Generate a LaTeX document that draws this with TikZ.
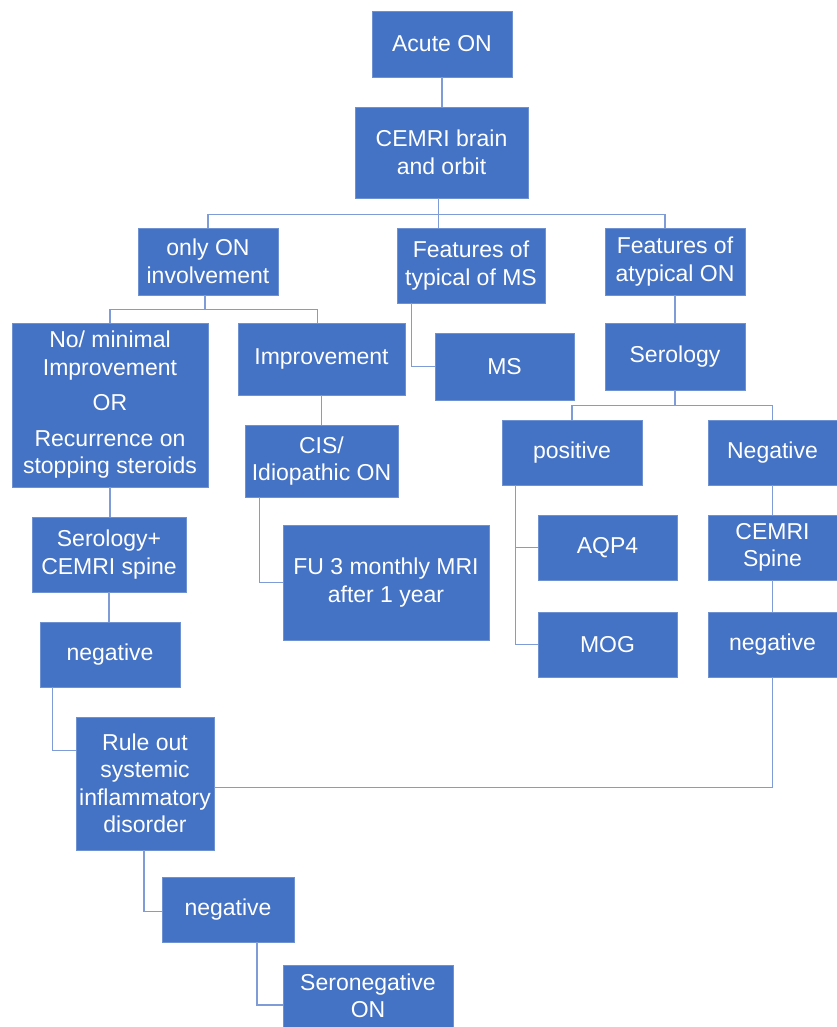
\documentclass[tikz,border=0pt]{standalone}
\usepackage{fontspec}
\setmainfont{Liberation Sans}
\usetikzlibrary{positioning}

\definecolor{boxblue}{RGB}{68,114,196}
\definecolor{boxedge}{RGB}{110,145,210}
\definecolor{linkblue}{RGB}{128,156,214}

\tikzset{
  box/.style={fill=boxblue, draw=boxedge, line width=0.8pt, text=white,
    align=center, inner sep=0pt, font=\fontsize{23}{27.5}\selectfont},
  link/.style={draw=linkblue, line width=1.6pt}
}

\begin{document}
\begin{tikzpicture}[x=1pt, y=-1pt]
  \useasboundingbox (0,0) rectangle (837,1027);

  % top of the tree
  \node[box, minimum width=140pt, minimum height=66pt] (acute) at (442,44) {Acute ON};
  \node[box, minimum width=173pt, minimum height=91pt] (cemri) at (441.5,152.5) {CEMRI brain\\and orbit};

  % first split
  \node[box, minimum width=140pt, minimum height=67pt] (onlyon) at (208,261.5) {only ON\\involvement};
  \node[box, minimum width=148pt, minimum height=75pt] (typms) at (471,265.5) {Features of\\typical of MS};
  \node[box, minimum width=140pt, minimum height=67pt] (atyp) at (675,261.5) {Features of\\atypical ON};

  % left branch
  \node[box, minimum width=196pt, minimum height=164pt] (nomin) at (110,405) {No/ minimal\\Improvement\\[8pt]OR\\[8pt]Recurrence on\\stopping steroids};
  \node[box, minimum width=167pt, minimum height=72pt] (improv) at (321.5,359) {Improvement};
  \node[box, minimum width=153pt, minimum height=72pt] (cis) at (321.5,461) {CIS/\\Idiopathic ON};
  \node[box, minimum width=206pt, minimum height=115pt] (fu) at (386,582.5) {FU 3 monthly MRI\\after 1 year};
  \node[box, minimum width=154pt, minimum height=75pt] (seroplus) at (109,554.5) {Serology+\\CEMRI spine};
  \node[box, minimum width=140pt, minimum height=65pt] (negl) at (110,654.5) {negative};
  \node[box, minimum width=138pt, minimum height=133pt] (ruleout) at (145,783.5) {Rule out\\systemic\\inflammatory\\disorder};
  \node[box, minimum width=132pt, minimum height=65pt] (negb) at (228,909.5) {negative};
  \node[box, minimum width=170pt, minimum height=62pt] (seroneg) at (368,996) {Seronegative\\ON};

  % middle branch
  \node[box, minimum width=139pt, minimum height=67pt] (ms) at (504.5,366.5) {MS};

  % right branch
  \node[box, minimum width=140pt, minimum height=67pt] (sero) at (675,356.5) {Serology};
  \node[box, minimum width=140pt, minimum height=65pt] (pos) at (572,452.5) {positive};
  \node[box, minimum width=129pt, minimum height=65pt] (negr1) at (772.5,452.5) {Negative};
  \node[box, minimum width=139pt, minimum height=65pt] (aqp) at (607.5,547.5) {AQP4};
  \node[box, minimum width=139pt, minimum height=65pt] (mog) at (607.5,644.5) {MOG};
  \node[box, minimum width=129pt, minimum height=65pt] (cspine) at (772.5,547.5) {CEMRI\\Spine};
  \node[box, minimum width=129pt, minimum height=65pt] (negr2) at (772.5,644.5) {negative};

  % connectors
  \draw[link] (acute.south) -- (acute.south |- cemri.north);
  \draw[link] ([xshift=-3pt]cemri.south) -- ++(0,16) -| (onlyon.north);
  \draw[link] ([xshift=-3pt]cemri.south) -- ++(0,16) -| ([xshift=-10pt]atyp.north);
  \draw[link] ([xshift=-3pt]cemri.south) -- ([xshift=-3pt]cemri.south |- typms.north);

  \draw[link] ([xshift=-3pt]onlyon.south) -- ++(0,14) -| (nomin.north);
  \draw[link] ([xshift=-3pt]onlyon.south) -- ++(0,14) -| ([xshift=-4pt]improv.north);
  \draw[link] ([xshift=15pt]typms.south west) |- (ms.west);
  \draw[link] (atyp.south) -- (sero.north);

  \draw[link] (sero.south) -- ++(0,15) -| (pos.north);
  \draw[link] (sero.south) -- ++(0,15) -| (negr1.north);
  \draw[link] ([xshift=14pt]pos.south west) |- (aqp.west);
  \draw[link] ([xshift=14pt]pos.south west) |- (mog.west);
  \draw[link] (negr1.south) -- (cspine.north);
  \draw[link] (cspine.south) -- (negr2.north);
  \draw[link] (negr2.south) |- ([yshift=-4pt]ruleout.east);

  \draw[link] (improv.south) -- (cis.north);
  \draw[link] ([xshift=15pt]cis.south west) |- (fu.west);

  \draw[link] (nomin.south) -- (nomin.south |- seroplus.north);
  \draw[link] (seroplus.south) -- (seroplus.south |- negl.north);
  \draw[link] ([xshift=13pt]negl.south west) |- ([yshift=33pt]ruleout.west);
  \draw[link] ([xshift=-1pt]ruleout.south) |- ([yshift=-2pt]negb.west);
  \draw[link] ([xshift=29pt]negb.south) |- ([yshift=-9pt]seroneg.west);
\end{tikzpicture}
\end{document}
